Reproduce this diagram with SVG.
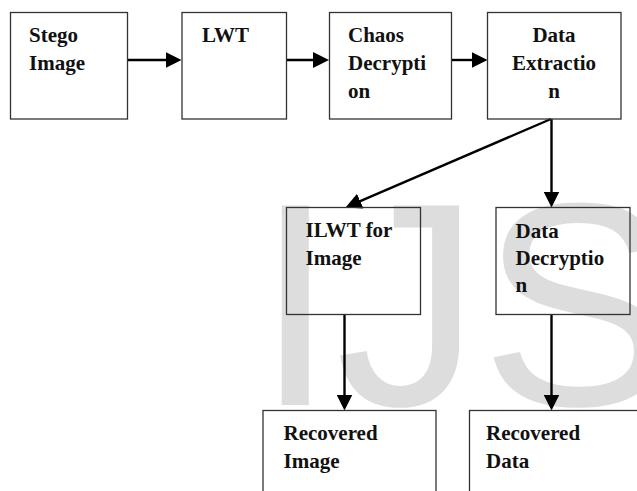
<svg xmlns="http://www.w3.org/2000/svg" width="637" height="491" viewBox="0 0 637 491">
  <style>
    .box { fill: none; stroke: #333; stroke-width: 1.3; }
    .lbl { font-family: "Liberation Serif", "Times New Roman", serif; font-weight: bold; font-size: 21px; fill: #111; }
    .mid { text-anchor: middle; }
    .wire { stroke: #000; stroke-width: 2.4; fill: none; marker-end: url(#head); }
    .mark { font-family: "Liberation Sans", Arial, sans-serif; font-size: 290px; fill: #dddddd; }
  </style>
  <defs>
    <marker id="head" markerUnits="userSpaceOnUse" markerWidth="16" markerHeight="16" refX="12" refY="8" orient="auto">
      <path d="M0,0 L16,8 L0,16 Z" fill="#000"/>
    </marker>
  </defs>

  <!-- background lettering -->
  <text class="mark" x="255" y="405">IJS</text>

  <!-- connectors -->
  <g id="connectors">
    <line class="wire" x1="127.5" y1="60" x2="177.5" y2="60"/>
    <line class="wire" x1="287" y1="60" x2="325" y2="60"/>
    <line class="wire" x1="452" y1="60" x2="483.5" y2="60"/>
    <line class="wire" x1="551" y1="119" x2="349.2" y2="205.9"/>
    <line class="wire" x1="551.5" y1="119" x2="551.5" y2="203.5"/>
    <line class="wire" x1="344.5" y1="314.5" x2="344.5" y2="406.5"/>
    <line class="wire" x1="551.5" y1="314.5" x2="551.5" y2="406.5"/>
  </g>

  <g id="stego-image">
    <rect class="box" x="10.5" y="12.5" width="117" height="106.5"/>
    <text class="lbl" x="29" y="42">Stego</text>
    <text class="lbl" x="29" y="70">Image</text>
  </g>

  <g id="lwt">
    <rect class="box" x="182" y="12.5" width="104.5" height="106.5"/>
    <text class="lbl" x="202" y="42">LWT</text>
  </g>

  <g id="chaos-decryption">
    <rect class="box" x="329.5" y="12.5" width="122" height="106.5"/>
    <text class="lbl" x="348" y="42">Chaos</text>
    <text class="lbl" x="348" y="70">Decrypti</text>
    <text class="lbl" x="348" y="98">on</text>
  </g>

  <g id="data-extraction">
    <rect class="box" x="487.5" y="12.5" width="133.5" height="106.5"/>
    <text class="lbl mid" x="554" y="42">Data</text>
    <text class="lbl mid" x="554" y="70">Extractio</text>
    <text class="lbl mid" x="554" y="98">n</text>
  </g>

  <g id="ilwt-image">
    <rect class="box" x="286.5" y="207.5" width="134" height="107"/>
    <text class="lbl" x="305.5" y="237">ILWT for</text>
    <text class="lbl" x="305.5" y="264.5">Image</text>
  </g>

  <g id="data-decryption">
    <rect class="box" x="496" y="207.5" width="134" height="107"/>
    <text class="lbl" x="515.5" y="237.5">Data</text>
    <text class="lbl" x="515.5" y="265">Decryptio</text>
    <text class="lbl" x="515.5" y="292">n</text>
  </g>

  <g id="recovered-image">
    <rect class="box" x="263" y="410.5" width="173" height="100"/>
    <text class="lbl" x="283.5" y="440">Recovered</text>
    <text class="lbl" x="283.5" y="467.5">Image</text>
  </g>

  <g id="recovered-data">
    <rect class="box" x="469.5" y="410.5" width="180" height="100"/>
    <text class="lbl" x="486" y="440">Recovered</text>
    <text class="lbl" x="486" y="467.5">Data</text>
  </g>
</svg>
